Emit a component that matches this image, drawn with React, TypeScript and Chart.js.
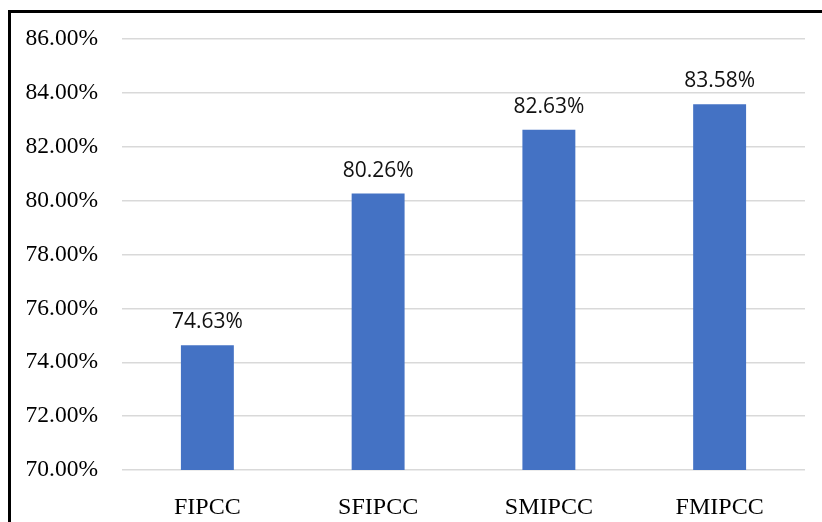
import { useEffect, useRef } from "react";
import { Chart, registerables } from "chart.js";

Chart.register(...registerables);

// Accuracy of each method (percent)
const categories: string[] = ["FIPCC", "SFIPCC", "SMIPCC", "FMIPCC"];
const accuracy: number[] = [74.63, 80.26, 82.63, 83.58];

// Value axis range and tick step (percent)
const axisRange: number[] = [70, 86];
const axisStep: number[] = [2];

const BAR_COLOR = "#4472C4";
const SERIF = '"Liberation Serif", "Times New Roman", serif';
const SANS = '"Open Sans", "Liberation Sans", sans-serif';

// Writes each bar's value just above it
const valueLabels = {
  id: "valueLabels",
  afterDatasetsDraw(chart: Chart) {
    const ctx = chart.ctx;
    const meta = chart.getDatasetMeta(0);
    ctx.save();
    ctx.font = `21px ${SANS}`;
    ctx.fillStyle = "#111111";
    ctx.textAlign = "center";
    ctx.textBaseline = "alphabetic";
    meta.data.forEach((bar: any, i: number) => {
      ctx.fillText(`${accuracy[i].toFixed(2)}%`, bar.x, bar.y - 17);
    });
    ctx.restore();
  },
};

export default function App() {
  const canvasRef = useRef<HTMLCanvasElement | null>(null);

  useEffect(() => {
    if (!canvasRef.current) return;
    const chart = new Chart(canvasRef.current, {
      type: "bar",
      data: {
        labels: categories,
        datasets: [
          {
            data: accuracy,
            backgroundColor: BAR_COLOR,
            borderWidth: 0,
            categoryPercentage: 1,
            barPercentage: 0.31,
          },
        ],
      },
      options: {
        responsive: false,
        animation: false,
        layout: { padding: { left: 0, right: 17, top: 39, bottom: 0 } },
        plugins: {
          legend: { display: false },
          tooltip: { enabled: false },
        },
        scales: {
          x: {
            grid: { display: false },
            border: { display: false },
            ticks: {
              color: "#000000",
              font: { family: SERIF, size: 24 },
              padding: 15,
              maxRotation: 0,
            },
            afterFit: (scale: any) => {
              scale.height = 52;
            },
          },
          y: {
            min: axisRange[0],
            max: axisRange[1],
            border: { display: false },
            grid: { color: "#d9d9d9", lineWidth: 1.5, drawTicks: false },
            ticks: {
              stepSize: axisStep[0],
              color: "#000000",
              font: { family: SERIF, size: 23.5 },
              padding: 24,
              callback: (v: any) => `${Number(v).toFixed(2)}%`,
            },
            afterFit: (scale: any) => {
              scale.width = 122;
            },
          },
        },
      },
      plugins: [valueLabels],
    });
    return () => chart.destroy();
  }, []);

  return (
    <div
      style={{
        position: "fixed",
        left: 0,
        top: 0,
        width: 822,
        height: 522,
        background: "#ffffff",
        overflow: "hidden",
      }}
    >
      <canvas
        ref={canvasRef}
        width={822}
        height={522}
        style={{ position: "absolute", left: 0, top: 0, display: "block" }}
      />
      <div
        style={{
          position: "absolute",
          left: 8,
          top: 10,
          width: 814,
          height: 512,
          borderLeft: "3px solid #000000",
          borderTop: "3px solid #000000",
          boxSizing: "border-box",
          pointerEvents: "none",
        }}
      />
    </div>
  );
}
